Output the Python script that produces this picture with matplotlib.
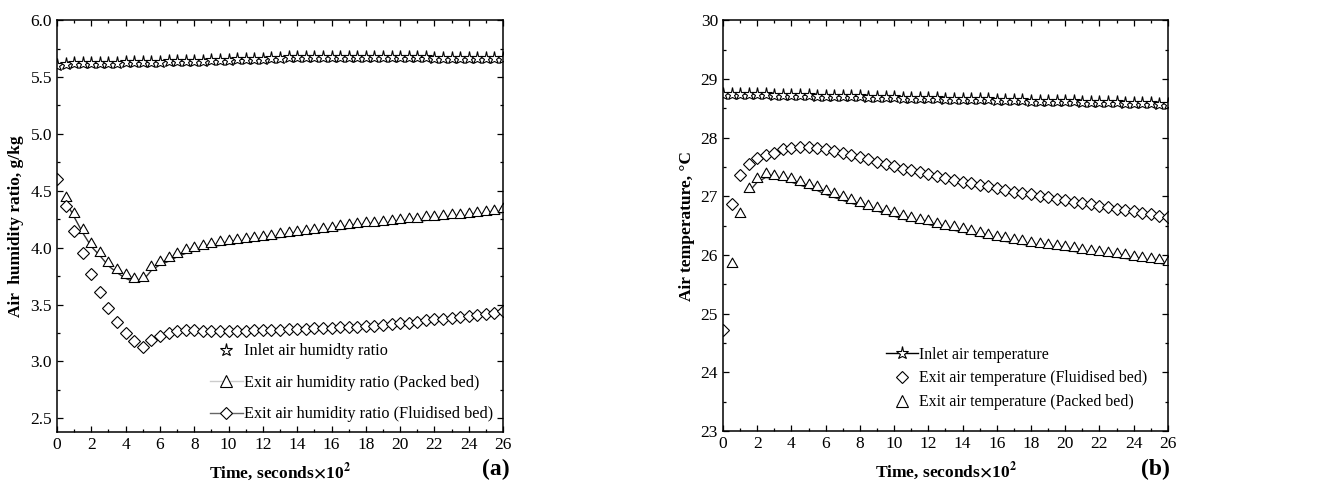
import numpy as np
import matplotlib
matplotlib.use("Agg")
import matplotlib.pyplot as plt
from matplotlib.path import Path
from matplotlib.lines import Line2D
from matplotlib.ticker import MultipleLocator, FormatStrFormatter

plt.rcParams["font.family"] = ["Liberation Serif", "DejaVu Serif"]
plt.rcParams["mathtext.fontset"] = "stix"

# time axis, seconds x 10^2
time = np.arange(0, 26.5, 0.5)

# ---- panel (a): humidity ratio, g/kg ----
inlet_hum = [5.61, 5.615, 5.62, 5.62, 5.62, 5.62, 5.625, 5.625, 5.63, 5.63,
             5.63, 5.635, 5.635, 5.64, 5.64, 5.64, 5.645, 5.645, 5.65, 5.65,
             5.65, 5.655, 5.655, 5.66, 5.66, 5.665, 5.67, 5.675, 5.68, 5.68,
             5.68, 5.68, 5.68, 5.68, 5.68, 5.68, 5.68, 5.68, 5.68, 5.678,
             5.675, 5.675, 5.673, 5.672, 5.67, 5.67, 5.67, 5.67, 5.67, 5.67,
             5.67, 5.67, 5.67]
packed_hum = [np.nan, 4.41, 4.27, 4.13, 4.01, 3.93, 3.84, 3.78, 3.73, 3.70,
              3.71, 3.80, 3.85, 3.88, 3.92, 3.95, 3.97, 3.99, 4.01, 4.02,
              4.03, 4.04, 4.05, 4.06, 4.07, 4.08, 4.09, 4.10, 4.11, 4.12,
              4.13, 4.14, 4.15, 4.16, 4.17, 4.18, 4.19, 4.195, 4.20, 4.21,
              4.22, 4.225, 4.23, 4.24, 4.245, 4.25, 4.26, 4.265, 4.27, 4.28,
              4.29, 4.30, 4.31]
fluid_hum = [4.60, 4.37, 4.15, 3.95, 3.77, 3.61, 3.47, 3.35, 3.25, 3.18,
             3.13, 3.19, 3.22, 3.25, 3.27, 3.28, 3.28, 3.27, 3.27, 3.27,
             3.27, 3.27, 3.27, 3.275, 3.28, 3.28, 3.28, 3.285, 3.285, 3.285,
             3.29, 3.29, 3.295, 3.30, 3.30, 3.305, 3.31, 3.315, 3.32, 3.33,
             3.335, 3.34, 3.35, 3.36, 3.37, 3.375, 3.385, 3.395, 3.40, 3.41,
             3.42, 3.43, 3.44]

# ---- panel (b): air temperature, C ----
inlet_temp = [28.75, 28.75, 28.745, 28.74, 28.74, 28.735, 28.73, 28.73, 28.725, 28.72,
              28.72, 28.715, 28.71, 28.71, 28.705, 28.70, 28.70, 28.695, 28.69, 28.69,
              28.685, 28.68, 28.68, 28.675, 28.67, 28.67, 28.665, 28.66, 28.66, 28.655,
              28.65, 28.65, 28.645, 28.64, 28.64, 28.635, 28.63, 28.63, 28.625, 28.62,
              28.62, 28.615, 28.61, 28.61, 28.605, 28.60, 28.60, 28.595, 28.59, 28.59,
              28.585, 28.58, 28.58]
fluid_temp = [24.72, 26.87, 27.37, 27.55, 27.66, 27.70, 27.74, 27.80, 27.83, 27.84,
              27.84, 27.83, 27.80, 27.77, 27.74, 27.70, 27.67, 27.63, 27.59, 27.55,
              27.51, 27.47, 27.44, 27.41, 27.38, 27.34, 27.31, 27.28, 27.25, 27.22,
              27.19, 27.17, 27.14, 27.11, 27.08, 27.05, 27.03, 27.00, 26.98, 26.95,
              26.93, 26.90, 26.88, 26.86, 26.83, 26.81, 26.79, 26.76, 26.74, 26.72,
              26.70, 26.67, 26.65]
packed_temp = [np.nan, 25.79, 26.64, 27.07, 27.24, 27.32, 27.30, 27.28, 27.24, 27.19,
               27.14, 27.10, 27.03, 26.98, 26.93, 26.88, 26.84, 26.79, 26.75, 26.70,
               26.66, 26.61, 26.58, 26.55, 26.52, 26.48, 26.45, 26.42, 26.39, 26.36,
               26.32, 26.29, 26.26, 26.23, 26.21, 26.18, 26.16, 26.14, 26.12, 26.10,
               26.08, 26.06, 26.04, 26.02, 26.00, 25.98, 25.96, 25.94, 25.92, 25.90,
               25.88, 25.86, 25.83]

# triangle sitting on its data point (base on the line), as in the original
tri = Path([(-1.0, 0.0), (1.0, 0.0), (0.0, 1.75), (-1.0, 0.0)],
           [Path.MOVETO, Path.LINETO, Path.LINETO, Path.CLOSEPOLY])

mk = dict(markerfacecolor="white", markeredgecolor="black", markeredgewidth=0.8)
FS = 12.5

fig = plt.figure(figsize=(13.2, 4.92), dpi=100)
ax1 = fig.add_axes([0.0432, 0.122, 0.3379, 0.837])
ax2 = fig.add_axes([0.5477, 0.124, 0.3371, 0.835])


def style_axes(ax):
    ax.tick_params(which="both", direction="in", top=True, right=True,
                   labelsize=FS, width=0.9)
    ax.tick_params(which="major", length=4)
    ax.tick_params(which="minor", length=2.5)
    for s in ax.spines.values():
        s.set_linewidth(1.1)
    ax.set_xlim(0, 26)
    ax.xaxis.set_major_locator(MultipleLocator(2))
    ax.xaxis.set_minor_locator(MultipleLocator(1))
    ax.set_xlabel(r"Time, seconds$\mathbf{\times}$10$^{\mathbf{2}}$",
                  fontsize=FS, fontweight="bold", labelpad=6)


# panel (a)
ax1.plot(time, inlet_hum, color="black", lw=0.8, marker="*", ms=9.5, **mk)
ax1.plot(time, packed_hum, color="#333333", lw=1.0, marker=tri, ms=13.5, **mk)
ax1.plot(time, fluid_hum, ls="none", marker="D", ms=6, **mk)
style_axes(ax1)
ax1.set_ylim(2.38, 6.0)
ax1.yaxis.set_major_locator(MultipleLocator(0.5))
ax1.yaxis.set_minor_locator(MultipleLocator(0.25))
ax1.yaxis.set_major_formatter(FormatStrFormatter("%.1f"))
ax1.set_ylabel("Air  humidity ratio, g/kg", fontsize=FS, fontweight="bold",
               labelpad=5)
h1 = [Line2D([], [], ls="none", marker="*", ms=9.5, **mk),
      Line2D([], [], color="#cccccc", lw=1.0, marker="^", ms=8, **mk),
      Line2D([], [], color="#666666", lw=1.0, marker="D", ms=6.5, **mk)]
ax1.legend(h1, ["Inlet air humidty ratio",
                "Exit air humidity ratio (Packed bed)",
                "Exit air humidity ratio (Fluidised bed)"],
           loc="lower right", frameon=False, fontsize=11.7, handlelength=2.0,
           handletextpad=0.1, labelspacing=0.95, borderaxespad=0.0,
           borderpad=0.6)

# panel (b)
ax2.plot(time, inlet_temp, color="black", lw=0.8, marker="*", ms=9.5, **mk)
ax2.plot(time, fluid_temp, ls="none", marker="D", ms=6.5, **mk)
ax2.plot(time[3:], packed_temp[3:], color="#333333", lw=1.0)
ax2.plot(time, packed_temp, ls="none", marker=tri, ms=13.5, **mk)
style_axes(ax2)
ax2.set_ylim(23, 30)
ax2.yaxis.set_major_locator(MultipleLocator(1))
ax2.yaxis.set_minor_locator(MultipleLocator(0.5))
ax2.set_ylabel("Air temperature, °C", fontsize=FS, fontweight="bold",
               labelpad=4)
h2 = [Line2D([], [], color="black", lw=1.0, marker="*", ms=9.5, **mk),
      Line2D([], [], ls="none", marker="D", ms=6.5, **mk),
      Line2D([], [], ls="none", marker="^", ms=8, **mk)]
ax2.legend(h2, ["Inlet air temperature",
                "Exit air temperature (Fluidised bed)",
                "Exit air temperature (Packed bed)"],
           loc="lower right", frameon=False, fontsize=11.4, handlelength=2.0,
           handletextpad=0.1, labelspacing=0.5, borderaxespad=0.0,
           borderpad=1.3)

fig.text(0.386, 0.045, "(a)", fontsize=17, fontweight="bold",
         ha="right", va="center")
fig.text(0.886, 0.045, "(b)", fontsize=17, fontweight="bold",
         ha="right", va="center")

fig.savefig("out.png", dpi=100)
